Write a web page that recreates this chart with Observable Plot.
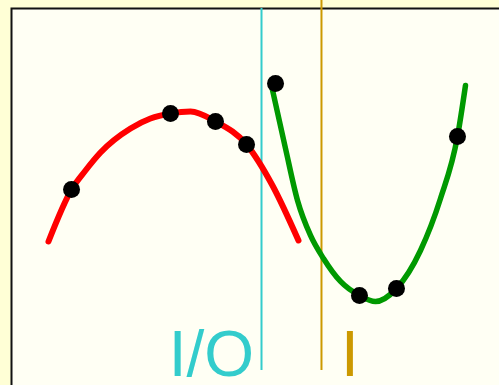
<!DOCTYPE html>
<html>
<head>
<meta charset="utf-8">
<script src="https://cdn.jsdelivr.net/npm/d3@7"></script>
<script src="https://cdn.jsdelivr.net/npm/@observablehq/plot@0.6"></script>
<style>
  html, body { margin: 0; padding: 0; overflow: hidden; background: #ffffd6; }
  #chart svg { display: block; }
</style>
</head>
<body>
<div id="chart"></div>
<script>
// Red curve
const redX = [7.58, 12.30, 15.16, 18.24, 24.39, 28.48, 32.58, 36.68, 41.80, 48.16, 53.48, 58.81];
const redY = [38.20, 51.99, 57.03, 61.80, 68.17, 70.82, 72.15, 72.68, 70.03, 63.93, 53.05, 38.46];
const redDotX = [12.30, 32.58, 41.80, 48.16];
const redDotY = [51.99, 72.15, 70.03, 63.93];

// Green curve
const greenX = [53.28, 56.15, 58.61, 61.27, 63.93, 67.42, 71.31, 74.59, 78.89, 83.81, 87.91, 91.39, 93.03];
const greenY = [79.58, 62.86, 49.07, 39.79, 33.69, 27.59, 23.87, 22.28, 25.73, 35.81, 49.60, 66.05, 79.58];
const greenDotX = [54.10, 71.31, 78.89, 91.39];
const greenDotY = [80.11, 23.87, 25.73, 66.05];

// Vertical markers and labels
const markerLabels = ["I/O", "I"];
const markerX = [51.23, 63.52];
const markerTop = [100, 102.1];
const markerBottom = [3.98, 3.98];
const markerColors = ["#33cccc", "#cc9900"];
const labelX = [40.98, 69.36];
const labelY = [2.5, 2.5];

const red = redX.map((x, i) => ({x, y: redY[i]}));
const redDots = redDotX.map((x, i) => ({x, y: redDotY[i]}));
const green = greenX.map((x, i) => ({x, y: greenY[i]}));
const greenDots = greenDotX.map((x, i) => ({x, y: greenDotY[i]}));
const markers = markerLabels.map((label, i) => ({
  label, x: markerX[i], y1: markerBottom[i], y2: markerTop[i],
  color: markerColors[i], lx: labelX[i], ly: labelY[i]
}));

const chart = Plot.plot({
  width: 499,
  height: 385,
  marginLeft: 11,
  marginTop: 8,
  marginRight: 0,
  marginBottom: 0,
  style: {background: "#ffffd6", overflow: "hidden"},
  x: {domain: [0, 100], axis: null},
  y: {domain: [0, 100], axis: null},
  marks: [
    Plot.frame({fill: "#fffff4", stroke: "#111", strokeWidth: 2, insetRight: -6, insetBottom: -6}),
    Plot.ruleX(markers, {x: "x", y1: "y1", y2: "y2", stroke: d => d.color, strokeWidth: 2}),
    Plot.line(red, {x: "x", y: "y", stroke: "#ff0000", strokeWidth: 6, curve: "monotone-x"}),
    Plot.line(green, {x: "x", y: "y", stroke: "#009900", strokeWidth: 5.5, curve: "monotone-x"}),
    Plot.dot(redDots, {x: "x", y: "y", r: 8.5, fill: "#000"}),
    Plot.dot(greenDots, {x: "x", y: "y", r: 8.5, fill: "#000"}),
    Plot.text(markers, {x: "lx", y: "ly", text: "label", fill: d => d.color, fontSize: 64,
      fontFamily: "Liberation Sans, Arial, sans-serif", textAnchor: "middle", lineAnchor: "bottom"})
  ]
});
document.getElementById("chart").appendChild(chart);
</script>
</body>
</html>
